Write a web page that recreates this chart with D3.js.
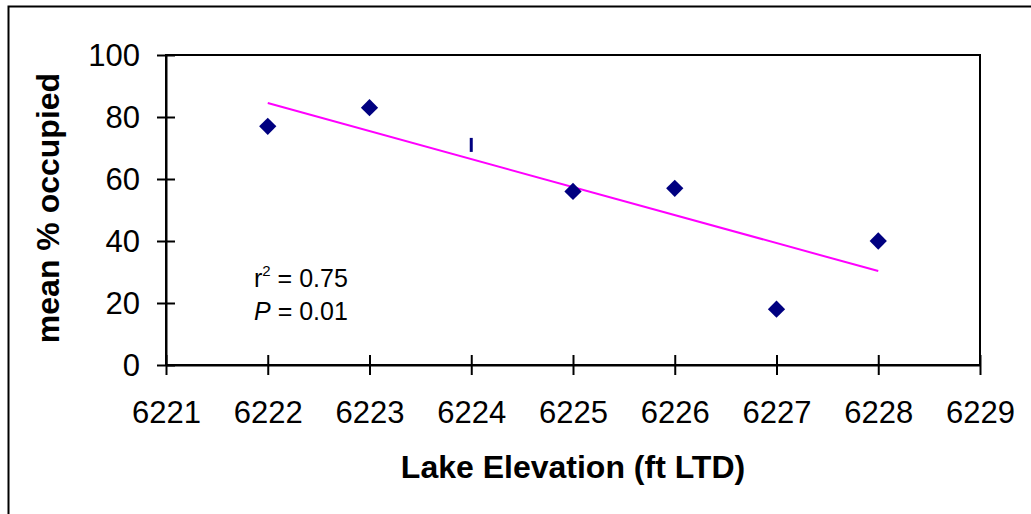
<!DOCTYPE html>
<html>
<head>
<meta charset="utf-8">
<script src="https://cdn.jsdelivr.net/npm/d3@7"></script>
<style>
body { margin: 0; background: #fff; }
text { font-family: "Liberation Sans", Arial, sans-serif; }
</style>
</head>
<body>
<div id="chart"></div>
<script>
const elevation = [6222, 6223, 6225, 6226, 6227, 6228];
const occupied = [77, 83, 56, 57, 18, 40];
// odd point drawn as a small vertical dash in the original
const dashPoint = [6224, 71];
const trendX = [6222, 6228];
const trendY = [84.5, 30.3];
const xTicks = [6221, 6222, 6223, 6224, 6225, 6226, 6227, 6228, 6229];
const yTicks = [0, 20, 40, 60, 80, 100];

const svg = d3.select('#chart').append('svg').attr('width', 1031).attr('height', 514);

// outer frame (top and left only visible)
svg.append('path')
    .attr('d', 'M8.5,514 V6.5 H1031')
    .attr('fill', 'none')
    .attr('stroke', '#000')
    .attr('stroke-width', 2);

const margin = { top: 55, left: 166 },
    width = 814,
    height = 310;

const x = d3.scaleLinear().domain([6221, 6229]).range([0, width]);
const y = d3.scaleLinear().domain([0, 100]).range([height, 0]);

const g = svg.append('g')
    .attr('transform', `translate(${margin.left},${margin.top})`);

// plot area border
g.append('rect')
    .attr('x', 0).attr('y', 0)
    .attr('width', width).attr('height', height)
    .attr('fill', 'none')
    .attr('stroke', '#000')
    .attr('stroke-width', 2);

const xAxis = g.append('g')
    .attr('transform', `translate(0,${height})`)
    .call(d3.axisBottom(x).tickValues(xTicks).tickFormat(d3.format('d')).tickSize(10).tickSizeOuter(0));
xAxis.select('.domain').attr('stroke-width', 2);
xAxis.selectAll('.tick line').attr('y1', -10).attr('stroke-width', 2);
xAxis.selectAll('.tick text')
    .attr('y', 58)
    .attr('dy', 0)
    .style('font-size', '31px')
    .attr('fill', '#000');

const yAxis = g.append('g')
    .call(d3.axisLeft(y).tickValues(yTicks).tickSize(9).tickSizeOuter(0));
yAxis.select('.domain').attr('stroke-width', 2);
yAxis.selectAll('.tick line').attr('x1', 9).attr('stroke-width', 2);
yAxis.selectAll('.tick text')
    .attr('x', -26)
    .attr('dy', '0.35em')
    .style('font-size', '31px')
    .attr('fill', '#000');

// trend line
g.append('line')
    .attr('x1', x(trendX[0])).attr('y1', y(trendY[0]))
    .attr('x2', x(trendX[1])).attr('y2', y(trendY[1]))
    .attr('stroke', '#ff00ff')
    .attr('stroke-width', 2);

// diamonds
g.selectAll('.pt')
    .data(elevation.map((e, i) => [e, occupied[i]]))
    .enter().append('path')
    .attr('class', 'pt')
    .attr('d', d3.symbol(d3.symbolDiamond2, 190))
    .attr('transform', d => `translate(${x(d[0])},${y(d[1])})`)
    .attr('fill', '#000080');

g.append('rect')
    .attr('x', x(dashPoint[0]) - 1.5)
    .attr('y', y(dashPoint[1]) - 7)
    .attr('width', 3)
    .attr('height', 14)
    .attr('fill', '#000080');

// annotation
const ann = svg.append('g').style('font-size', '25px');
const t1 = ann.append('text').attr('x', 254).attr('y', 287);
t1.append('tspan').text('r');
t1.append('tspan').attr('dy', -11).style('font-size', '15px').text('2');
t1.append('tspan').attr('dy', 11).text(' = 0.75');
const t2 = ann.append('text').attr('x', 254).attr('y', 320);
t2.append('tspan').style('font-style', 'italic').text('P');
t2.append('tspan').text(' = 0.01');

// axis titles
svg.append('text')
    .attr('x', margin.left + width / 2 - 0)
    .attr('y', 478)
    .attr('text-anchor', 'middle')
    .style('font-size', '32px')
    .style('font-weight', 'bold')
    .text('Lake Elevation (ft LTD)');

svg.append('text')
    .attr('transform', 'translate(59,208) rotate(-90)')
    .attr('text-anchor', 'middle')
    .style('font-size', '32px')
    .style('font-weight', 'bold')
    .text('mean % occupied');
</script>
</body>
</html>
